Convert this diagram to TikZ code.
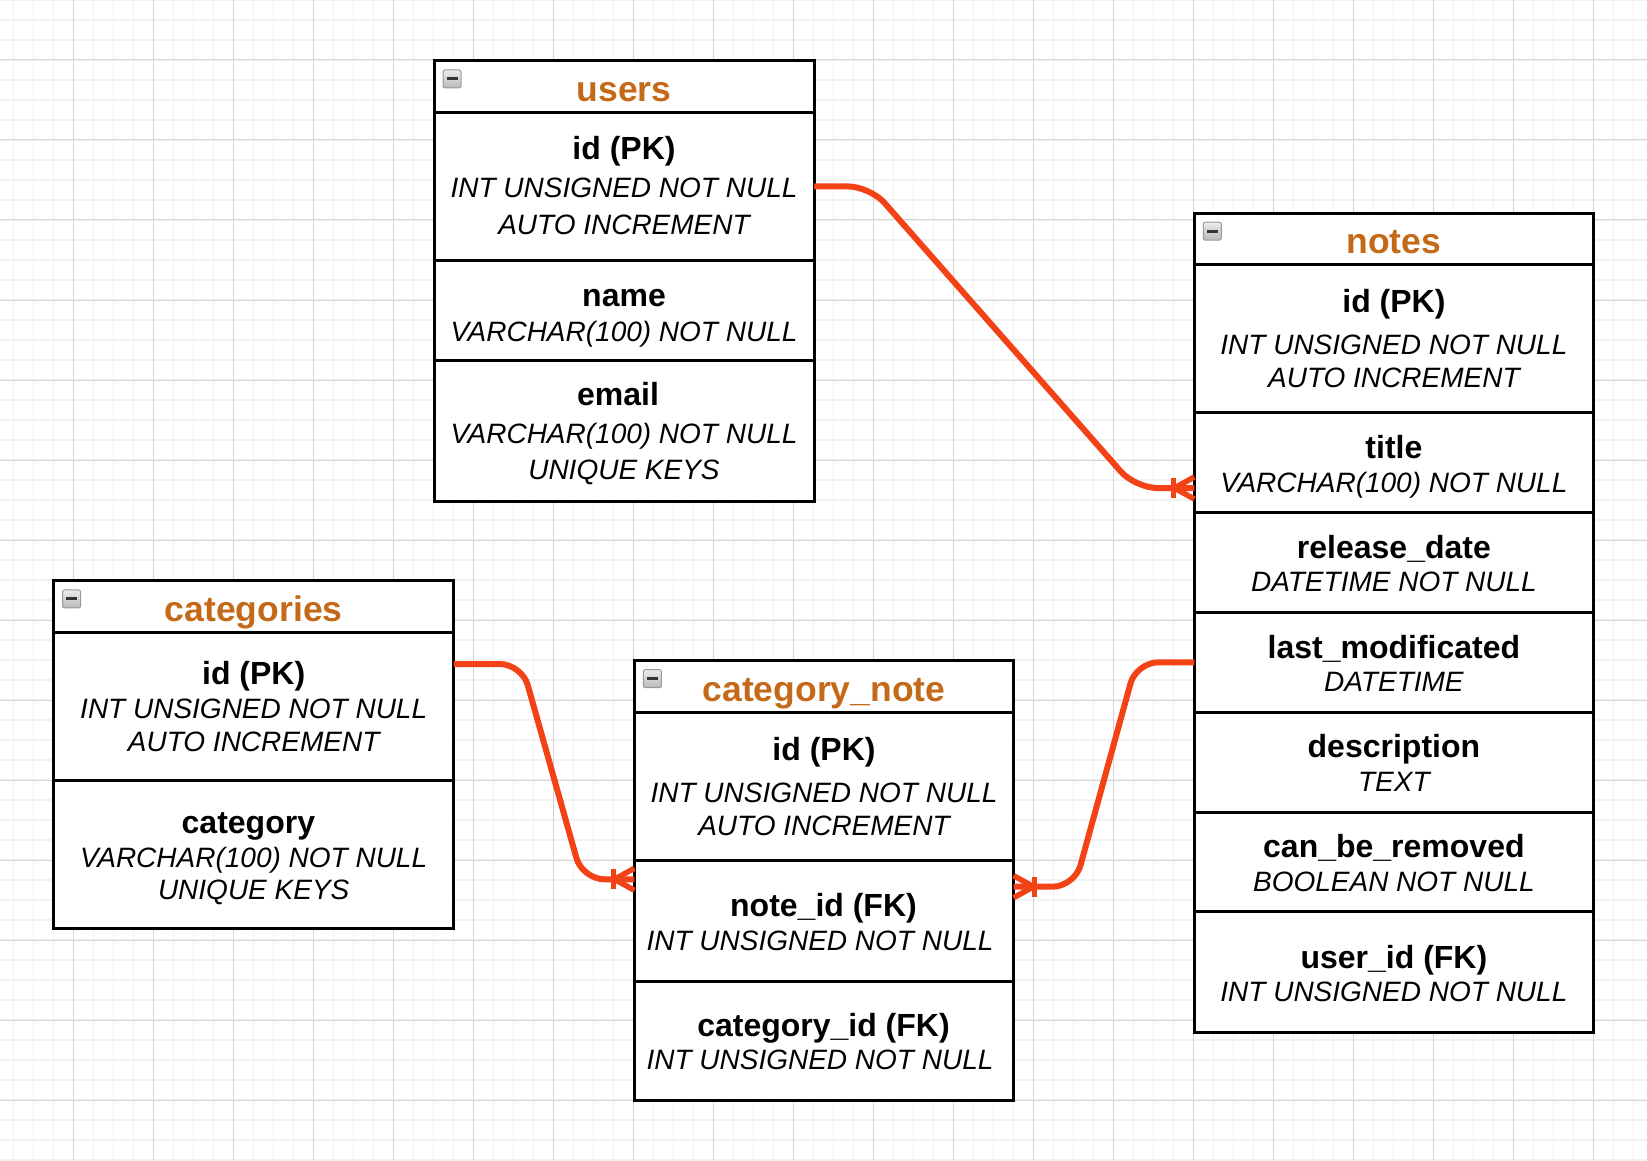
\documentclass[tikz,border=0pt]{standalone}
\usepackage{fontspec}
\setmainfont{Liberation Sans}
\usepackage{tikz}
\usepackage{xcolor}
\usetikzlibrary{fit}

\definecolor{titlecol}{RGB}{196,105,24}
\definecolor{relcol}{RGB}{242,66,22}
\definecolor{gridminor}{RGB}{242,242,242}
\definecolor{gridmajor}{RGB}{212,212,212}

\tikzset{
    minorline/.style={draw=gridminor,line width=1.5pt},
    majorline/.style={draw=gridmajor,line width=1pt},
    rowbox/.style={draw,fill=white,line width=3pt,inner sep=0pt,outer sep=0pt},
    tabtitle/.style={anchor=base,inner sep=0pt,text=titlecol,font=\bfseries\fontsize{35.5}{40}\selectfont},
    fieldname/.style={anchor=base,inner sep=0pt,font=\bfseries\fontsize{32}{38}\selectfont},
    fieldtype/.style={anchor=base,inner sep=0pt,font=\itshape\fontsize{28}{34}\selectfont},
    rel/.style={draw=relcol,line width=6pt,rounded corners=22pt},
    collapse/.pic={
        \draw[draw=gray!80,line width=1pt,rounded corners=2pt,top color=gray!15,bottom color=gray!55] (9,9) rectangle (27,27);
        \draw[line width=3pt,black!80] (12.5,18) -- (23.5,18);
    },
    crowfoot/.pic={
        \draw[draw=relcol,line width=5.5pt] (0,-11) -- (-20,0) -- (0,11);
        \draw[draw=relcol,line width=5.5pt] (-21,-10) -- (-21,10);
    },
}

\begin{document}
\begin{tikzpicture}[x=1pt,y=-1pt]
    % canvas
    \useasboundingbox (0,0) rectangle (1647,1161);
    \fill[white] (0,0) rectangle (1647,1161);
    % grid
    \foreach \x in {13.3,33.3,...,1647} { \draw[minorline] (\x,0) -- (\x,1161); }
    \foreach \y in {0,20,...,1161} { \draw[minorline] (0,\y) -- (1647,\y); }
    \foreach \x in {73.3,153.3,...,1647} { \draw[majorline] (\x,0) -- (\x,1161); }
    \foreach \y in {60,140,...,1161} { \draw[majorline] (0,\y) -- (1647,\y); }

    % users
    \foreach \r/\a/\b in {head/61/112.4, id/112.4/260.5, name/260.5/360.3, email/360.3/501} {
        \node[rowbox,fit={(434,\a) (814,\b)}] (users-\r) {};
    }
    \pic at (users-head.north west) {collapse};
    \node[tabtitle] (users-head-t) at (624,102) {users};
    \node[fieldname] (users-id-t1) at (624,159.3) {id (PK)};
    \node[fieldtype] (users-id-t2) at (624,197.3) {INT UNSIGNED NOT NULL};
    \node[fieldtype] (users-id-t3) at (624,235) {AUTO INCREMENT};
    \node[fieldname] (users-name-t1) at (624,306) {name};
    \node[fieldtype] (users-name-t2) at (624,341) {VARCHAR(100) NOT NULL};
    \node[fieldname] (users-email-t1) at (618,405) {email};
    \node[fieldtype] (users-email-t2) at (624,443) {VARCHAR(100) NOT NULL};
    \node[fieldtype] (users-email-t3) at (624,479.5) {UNIQUE KEYS};

    % notes
    \foreach \r/\a/\b in {head/213.2/264.7, id/264.7/412.8, title/412.8/512.6, release/512.6/612.4,
                          modified/612.4/712.2, desc/712.2/812, removed/812/911.7, user/911.7/1032.5} {
        \node[rowbox,fit={(1194.3,\a) (1593.5,\b)}] (notes-\r) {};
    }
    \pic at (notes-head.north west) {collapse};
    \node[tabtitle] (notes-head-t) at (1393.9,253.3) {notes};
    \node[fieldname] (notes-id-t1) at (1393.9,312.7) {id (PK)};
    \node[fieldtype] (notes-id-t2) at (1393.9,354.5) {INT UNSIGNED NOT NULL};
    \node[fieldtype] (notes-id-t3) at (1393.9,387.3) {AUTO INCREMENT};
    \node[fieldname] (notes-title-t1) at (1393.9,458.5) {title};
    \node[fieldtype] (notes-title-t2) at (1393.9,492.1) {VARCHAR(100) NOT NULL};
    \node[fieldname] (notes-release-t1) at (1393.9,558.3) {release\_date};
    \node[fieldtype] (notes-release-t2) at (1393.9,591.9) {DATETIME NOT NULL};
    \node[fieldname] (notes-modified-t1) at (1393.9,658.1) {last\_modificated};
    \node[fieldtype] (notes-modified-t2) at (1393.9,691.7) {DATETIME};
    \node[fieldname] (notes-desc-t1) at (1393.9,757.9) {description};
    \node[fieldtype] (notes-desc-t2) at (1393.9,791.5) {TEXT};
    \node[fieldname] (notes-removed-t1) at (1393.9,857.7) {can\_be\_removed};
    \node[fieldtype] (notes-removed-t2) at (1393.9,891.3) {BOOLEAN NOT NULL};
    \node[fieldname] (notes-user-t1) at (1393.9,968) {user\_id (FK)};
    \node[fieldtype] (notes-user-t2) at (1393.9,1001.6) {INT UNSIGNED NOT NULL};

    % categories
    \foreach \r/\a/\b in {head/580.9/632.3, id/632.3/780.4, category/780.4/928.6} {
        \node[rowbox,fit={(53.6,\a) (453.8,\b)}] (categories-\r) {};
    }
    \pic at (categories-head.north west) {collapse};
    \node[tabtitle] (categories-head-t) at (253.7,621.7) {categories};
    \node[fieldname] (categories-id-t1) at (253.7,684.3) {id (PK)};
    \node[fieldtype] (categories-id-t2) at (253.7,718.3) {INT UNSIGNED NOT NULL};
    \node[fieldtype] (categories-id-t3) at (253.7,751.7) {AUTO INCREMENT};
    \node[fieldname] (categories-category-t1) at (248.4,833.5) {category};
    \node[fieldtype] (categories-category-t2) at (253.7,867.1) {VARCHAR(100) NOT NULL};
    \node[fieldtype] (categories-category-t3) at (253.7,899.7) {UNIQUE KEYS};

    % category_note
    \foreach \r/\a/\b in {head/660.7/712.2, id/712.2/860.3, noteid/860.3/981, catid/981/1100.8} {
        \node[rowbox,fit={(634.4,\a) (1013.6,\b)}] (catnote-\r) {};
    }
    \pic at (catnote-head.north west) {collapse};
    \node[tabtitle] (catnote-head-t) at (824,701.7) {category\_note};
    \node[fieldname] (catnote-id-t1) at (824,760.7) {id (PK)};
    \node[fieldtype] (catnote-id-t2) at (824,802.7) {INT UNSIGNED NOT NULL};
    \node[fieldtype] (catnote-id-t3) at (824,835.7) {AUTO INCREMENT};
    \node[fieldname] (catnote-noteid-t1) at (823.5,916.4) {note\_id (FK)};
    \node[fieldtype] (catnote-noteid-t2) at (820,950.1) {INT UNSIGNED NOT NULL};
    \node[fieldname] (catnote-catid-t1) at (823.5,1036.2) {category\_id (FK)};
    \node[fieldtype] (catnote-catid-t2) at (820,1069.9) {INT UNSIGNED NOT NULL};

    % relations
    \coordinate (rel-a) at ([yshift=-25.3pt]notes-title.west);
    \draw[rel] (users-id.east) -- ++(56,0) -- ([xshift=-59pt]rel-a) -- (rel-a);
    \pic at (rel-a) {crowfoot};

    \coordinate (rel-b1) at ([yshift=-31.7pt]categories-id.north east);
    \coordinate (rel-b2) at ([yshift=-19pt]catnote-noteid.north west);
    \draw[rel] (rel-b1) -- ++(68,0) -- ([xshift=-52pt]rel-b2) -- (rel-b2);
    \pic at (rel-b2) {crowfoot};

    \coordinate (rel-c) at ([yshift=-26.4pt]catnote-noteid.north east);
    \draw[rel] (notes-modified.west) -- ++(-58,0) -- ([xshift=61pt]rel-c) -- (rel-c);
    \pic[rotate=180] at (rel-c) {crowfoot};
\end{tikzpicture}
\end{document}
